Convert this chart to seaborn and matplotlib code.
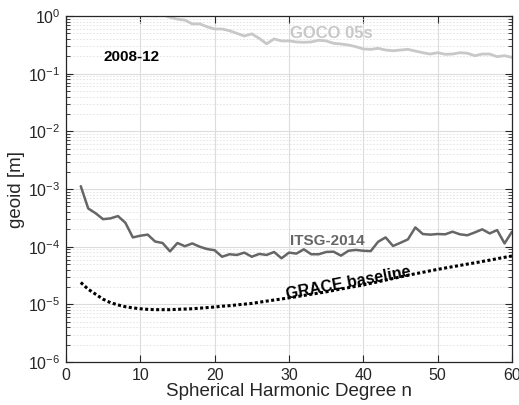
import matplotlib
matplotlib.use("Agg")
import matplotlib.pyplot as plt
from matplotlib.ticker import LogLocator, FixedLocator, NullFormatter
import numpy as np
import pandas as pd
import seaborn as sns

# degree n and geoid amplitudes [m]
itsg_n = list(range(2, 61))
itsg = [1.12e-3, 4.6e-4, 3.8e-4, 3.0e-4, 3.1e-4, 3.4e-4, 2.6e-4, 1.45e-4, 1.55e-4, 1.62e-4,
        1.23e-4, 1.16e-4, 8.3e-5, 1.16e-4, 1.02e-4, 1.14e-4, 1.0e-4, 9.1e-5, 8.7e-5, 6.7e-5,
        7.4e-5, 7.2e-5, 7.9e-5, 6.7e-5, 7.5e-5, 7.2e-5, 8.1e-5, 6.3e-5, 7.9e-5, 7.6e-5,
        9.0e-5, 7.4e-5, 7.4e-5, 8.1e-5, 8.2e-5, 7.0e-5, 8.5e-5, 8.8e-5, 8.5e-5, 8.4e-5,
        1.22e-4, 1.45e-4, 1.03e-4, 1.17e-4, 1.34e-4, 2.16e-4, 1.66e-4, 1.62e-4, 1.66e-4, 1.64e-4,
        1.82e-4, 1.64e-4, 1.58e-4, 1.77e-4, 2.0e-4, 1.70e-4, 1.94e-4, 1.14e-4, 1.82e-4]

goco_n = list(range(12, 61))
goco = [1.0, 1.05, 0.95, 0.88, 0.85, 0.73, 0.73, 0.65, 0.595, 0.595,
        0.556, 0.50, 0.45, 0.49, 0.41, 0.33, 0.40, 0.37, 0.37, 0.355,
        0.35, 0.355, 0.38, 0.37, 0.336, 0.327, 0.314, 0.294, 0.268, 0.264,
        0.275, 0.257, 0.25, 0.257, 0.264, 0.247, 0.231, 0.219, 0.231, 0.217,
        0.219, 0.231, 0.226, 0.205, 0.219, 0.219, 0.197, 0.205, 0.192]

grace_n = list(range(2, 61))
grace = [2.4e-5, 1.83e-5, 1.5e-5, 1.23e-5, 1.07e-5, 9.8e-6, 9.1e-6, 8.7e-6, 8.4e-6, 8.2e-6,
         8.1e-6, 8.1e-6, 8.1e-6, 8.2e-6, 8.3e-6, 8.4e-6, 8.6e-6, 8.8e-6, 9.0e-6, 9.3e-6,
         9.5e-6, 9.8e-6, 1.01e-5, 1.04e-5, 1.09e-5, 1.14e-5, 1.19e-5, 1.24e-5, 1.3e-5, 1.36e-5,
         1.43e-5, 1.5e-5, 1.57e-5, 1.65e-5, 1.75e-5, 1.85e-5, 1.95e-5, 2.06e-5, 2.17e-5, 2.32e-5,
         2.47e-5, 2.64e-5, 2.81e-5, 3.0e-5, 3.2e-5, 3.4e-5, 3.6e-5, 3.82e-5, 4.05e-5, 4.27e-5,
         4.5e-5, 4.74e-5, 5.0e-5, 5.25e-5, 5.55e-5, 5.85e-5, 6.2e-5, 6.55e-5, 6.9e-5]

sns.set_style("ticks")
plt.rcParams['font.family'] = ['Liberation Sans', 'DejaVu Sans']
plt.rcParams['mathtext.fontset'] = 'custom'
plt.rcParams['mathtext.rm'] = 'Liberation Sans'
plt.rcParams['xtick.direction'] = 'in'
plt.rcParams['ytick.direction'] = 'in'

fig = plt.figure(figsize=(5.19, 4.05), dpi=100)
ax = fig.add_axes([0.127, 0.106, 0.8595, 0.8545])

df_goco = pd.DataFrame({'n': goco_n, 'geoid': goco})
df_itsg = pd.DataFrame({'n': itsg_n, 'geoid': itsg})
df_grace = pd.DataFrame({'n': grace_n, 'geoid': grace})

sns.lineplot(data=df_goco, x='n', y='geoid', ax=ax, color='#c8c8c8', lw=2)
sns.lineplot(data=df_itsg, x='n', y='geoid', ax=ax, color='#666666', lw=1.8)
sns.lineplot(data=df_grace, x='n', y='geoid', ax=ax, color='black', lw=2.2, linestyle=(0, (1, 0.8)))

ax.set_yscale('log')
ax.set_xlim(0, 60)
ax.set_ylim(1e-6, 1)
ax.xaxis.set_major_locator(FixedLocator([0, 10, 20, 30, 40, 50, 60]))
ax.yaxis.set_major_locator(LogLocator(base=10, numticks=10))
ax.yaxis.set_minor_locator(LogLocator(base=10, subs=np.arange(2, 10), numticks=20))
ax.yaxis.set_minor_formatter(NullFormatter())

ax.grid(True, which='major', color='#dcdcdc', lw=0.8)
ax.grid(True, which='minor', axis='y', color='#e0e0e0', lw=0.6, linestyle=(0, (2, 2)))
ax.set_axisbelow(True)

ax.tick_params(which='both', top=True, right=True, labelsize=11.5, colors='#262626')
ax.tick_params(which='major', length=5, width=0.8, pad=4)
ax.tick_params(which='minor', length=3, width=0.6)
for s in ax.spines.values():
    s.set_color('#262626')
    s.set_linewidth(0.9)

ax.set_xlabel('Spherical Harmonic Degree n', fontsize=13.5, labelpad=0)
ax.set_ylabel('geoid [m]', fontsize=13.5, labelpad=2)

ax.text(30.1, 10**-0.31, 'GOCO 05s', color='#c8c8c8', fontsize=12, fontweight='bold', va='center')
ax.text(30.1, 10**-3.9, 'ITSG-2014', color='#666666', fontsize=11, fontweight='bold', va='center')
ax.text(38.0, 10**-4.63, 'GRACE baseline', color='black', fontsize=11.5, fontweight='bold',
        va='center', ha='center', rotation=10.5, rotation_mode='anchor')
ax.text(5.1, 10**-0.71, '2008-12', color='black', fontsize=11, fontweight='bold', va='center')

fig.savefig('out.png', dpi=100)
